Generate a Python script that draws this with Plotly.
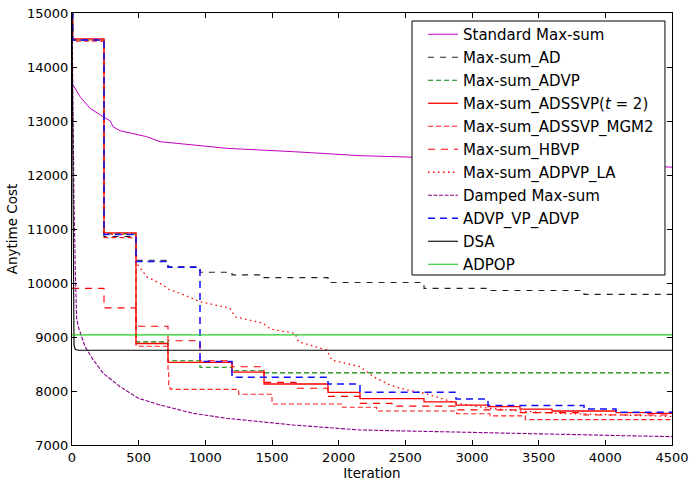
import plotly.graph_objects as go

# ---------------- data ----------------
std_x = [0, 60, 135, 210, 235, 260, 285, 308, 360, 560, 660, 910, 1160, 1660, 2160, 2550, 3500, 4500]
std_y = [13700, 13450, 13235, 13111, 13069, 13040, 13006, 12894, 12820, 12710, 12617, 12556, 12494, 12432, 12358, 12330, 12240, 12145]

ad_x = [0, 5, 240, 480, 720, 960, 1200, 1440, 1920, 2640, 3120, 3840, 4500]
ad_y = [15000, 14500, 10860, 10420, 10300, 10200, 10150, 10100, 10010, 9900, 9860, 9790, 9790]

advp_x = [0, 5, 240, 480, 720, 960, 1200, 1440, 4500]
advp_y = [15000, 14500, 10910, 8910, 8560, 8440, 8375, 8335, 8335]

adssvp_x = [0, 5, 240, 480, 720, 1200, 1440, 1920, 2160, 2640, 2880, 3120, 3360, 3600, 4080, 4320, 4500]
adssvp_y = [15000, 14520, 10930, 8880, 8530, 8350, 8130, 7975, 7860, 7800, 7740, 7710, 7665, 7630, 7600, 7585, 7585]

mgm2_x = [0, 5, 240, 480, 720, 725, 735, 750, 1250, 1500, 2030, 2285, 2885, 3135, 3400, 4500]
mgm2_y = [15000, 14480, 10840, 8830, 8400, 8100, 8040, 8030, 7940, 7760, 7700, 7630, 7580, 7540, 7470, 7470]

hbvp_x = [0, 240, 480, 720, 960, 1200, 1440, 1680, 1920, 2160, 2400, 2880, 3360, 3840, 4500]
hbvp_y = [9900, 9540, 9200, 8930, 8560, 8450, 8160, 8050, 7900, 7770, 7720, 7650, 7600, 7555, 7555]

la_x = [0, 5, 240, 241, 480, 485, 495, 560, 660, 735, 810, 960, 1185, 1222, 1435, 1485, 1673, 1698,
        1910, 1948, 2160, 2260, 2385, 2510, 2648, 2760, 2885, 3135, 3335, 3600, 4000, 4500]
la_y = [15000, 14500, 14500, 10900, 10900, 10400, 10330, 10117, 9994, 9870, 9809, 9655, 9532, 9376, 9253, 9148, 9068, 8913,
        8759, 8574, 8450, 8265, 8111, 8019, 7957, 7865, 7772, 7680, 7635, 7590, 7560, 7530]

damped_x = [0, 8, 15, 25, 35, 47, 98, 160, 235, 360, 498, 660, 910, 1160, 1660, 2160, 3335, 4500]
damped_y = [15000, 13000, 11500, 10200, 9350, 9190, 8821, 8574, 8327, 8080, 7865, 7741, 7586, 7494, 7370, 7278, 7216, 7154]

vp_x = [0, 5, 240, 480, 720, 960, 1200, 1920, 2160, 2880, 3120, 3840, 4080, 4500]
vp_y = [15000, 14500, 10900, 10400, 10290, 8545, 8255, 8130, 7976, 7852, 7730, 7667, 7605, 7605]

dsa_x = [0, 10, 15, 25, 50, 4500]
dsa_y = [15000, 9500, 8850, 8770, 8755, 8755]

adpop_x = [0, 4500]
adpop_y = [9040, 9040]

x_ticks = [0, 500, 1000, 1500, 2000, 2500, 3000, 3500, 4000, 4500]
y_ticks = [7000, 8000, 9000, 10000, 11000, 12000, 13000, 14000, 15000]

series = [
    ("Standard Max-sum", std_x, std_y, "#C000C0", "solid", "linear", 1.0),
    ("Max-sum_AD", ad_x, ad_y, "#222222", "6px,6px", "hv", 1.1),
    ("Max-sum_ADVP", advp_x, advp_y, "#008000", "5px,3px", "hv", 1.2),
    ("Max-sum_ADSSVP(<i>t</i> = 2)", adssvp_x, adssvp_y, "#FF0000", "solid", "hv", 1.3),
    ("Max-sum_ADSSVP_MGM2", mgm2_x, mgm2_y, "#FF2020", "5px,3px", "hv", 1.1),
    ("Max-sum_HBVP", hbvp_x, hbvp_y, "#FF0000", "7px,6px", "hv", 1.1),
    ("Max-sum_ADPVP_LA", la_x, la_y, "#FF0000", "1.5px,3.5px", "linear", 1.3),
    ("Damped Max-sum", damped_x, damped_y, "#8B008B", "4px,1.5px", "linear", 1.1),
    ("ADVP_VP_ADVP", vp_x, vp_y, "#1010FF", "7px,5px", "hv", 1.5),
    ("DSA", dsa_x, dsa_y, "#000000", "solid", "linear", 1.1),
    ("ADPOP", adpop_x, adpop_y, "#22CC22", "solid", "linear", 1.1),
]

fig = go.Figure()
for i, (name, xs, ys, color, dash, shape, w) in enumerate(series):
    fig.add_trace(go.Scatter(
        x=xs, y=ys, mode="lines", name=name, legendgroup=f"g{i}",
        line=dict(color=color, dash=dash, shape=shape, width=w),
    ))

axis_common = dict(
    showline=True, linecolor="black", linewidth=1, mirror="ticks",
    ticks="inside", ticklen=5, tickcolor="black", tickwidth=1,
    showgrid=False, zeroline=False, tickformat="d",
    tickfont=dict(family="DejaVu Sans", size=13, color="black"),
)

# legend frame drawn as a white box above the traces
fig.add_shape(type="rect", xref="paper", yref="paper",
              x0=0.5667, x1=0.9883, y0=0.3935, y1=0.9815,
              fillcolor="white", line=dict(color="black", width=1), layer="above")

fig.update_layout(
    width=689, height=482,
    margin=dict(l=72, r=17, t=13, b=37, autoexpand=False),
    paper_bgcolor="white", plot_bgcolor="white",
    font=dict(family="DejaVu Sans", color="black"),
    xaxis=dict(range=[0, 4500], tickvals=x_ticks, automargin=False,
               title=dict(text="Iteration", font=dict(size=13.5), standoff=3), **axis_common),
    yaxis=dict(range=[7000, 15000], tickvals=y_ticks, automargin=False,
               title=dict(text="Anytime Cost", font=dict(size=13.5), standoff=6), **axis_common),
    legend=dict(x=0.585, y=0.9884, xanchor="left", yanchor="top",
                bgcolor="rgba(0,0,0,0)", borderwidth=0, maxheight=420,
                font=dict(family="DejaVu Sans", size=15, color="black"),
                tracegroupgap=0.5, itemwidth=30),
    showlegend=True,
)

fig.write_html("out.html")
